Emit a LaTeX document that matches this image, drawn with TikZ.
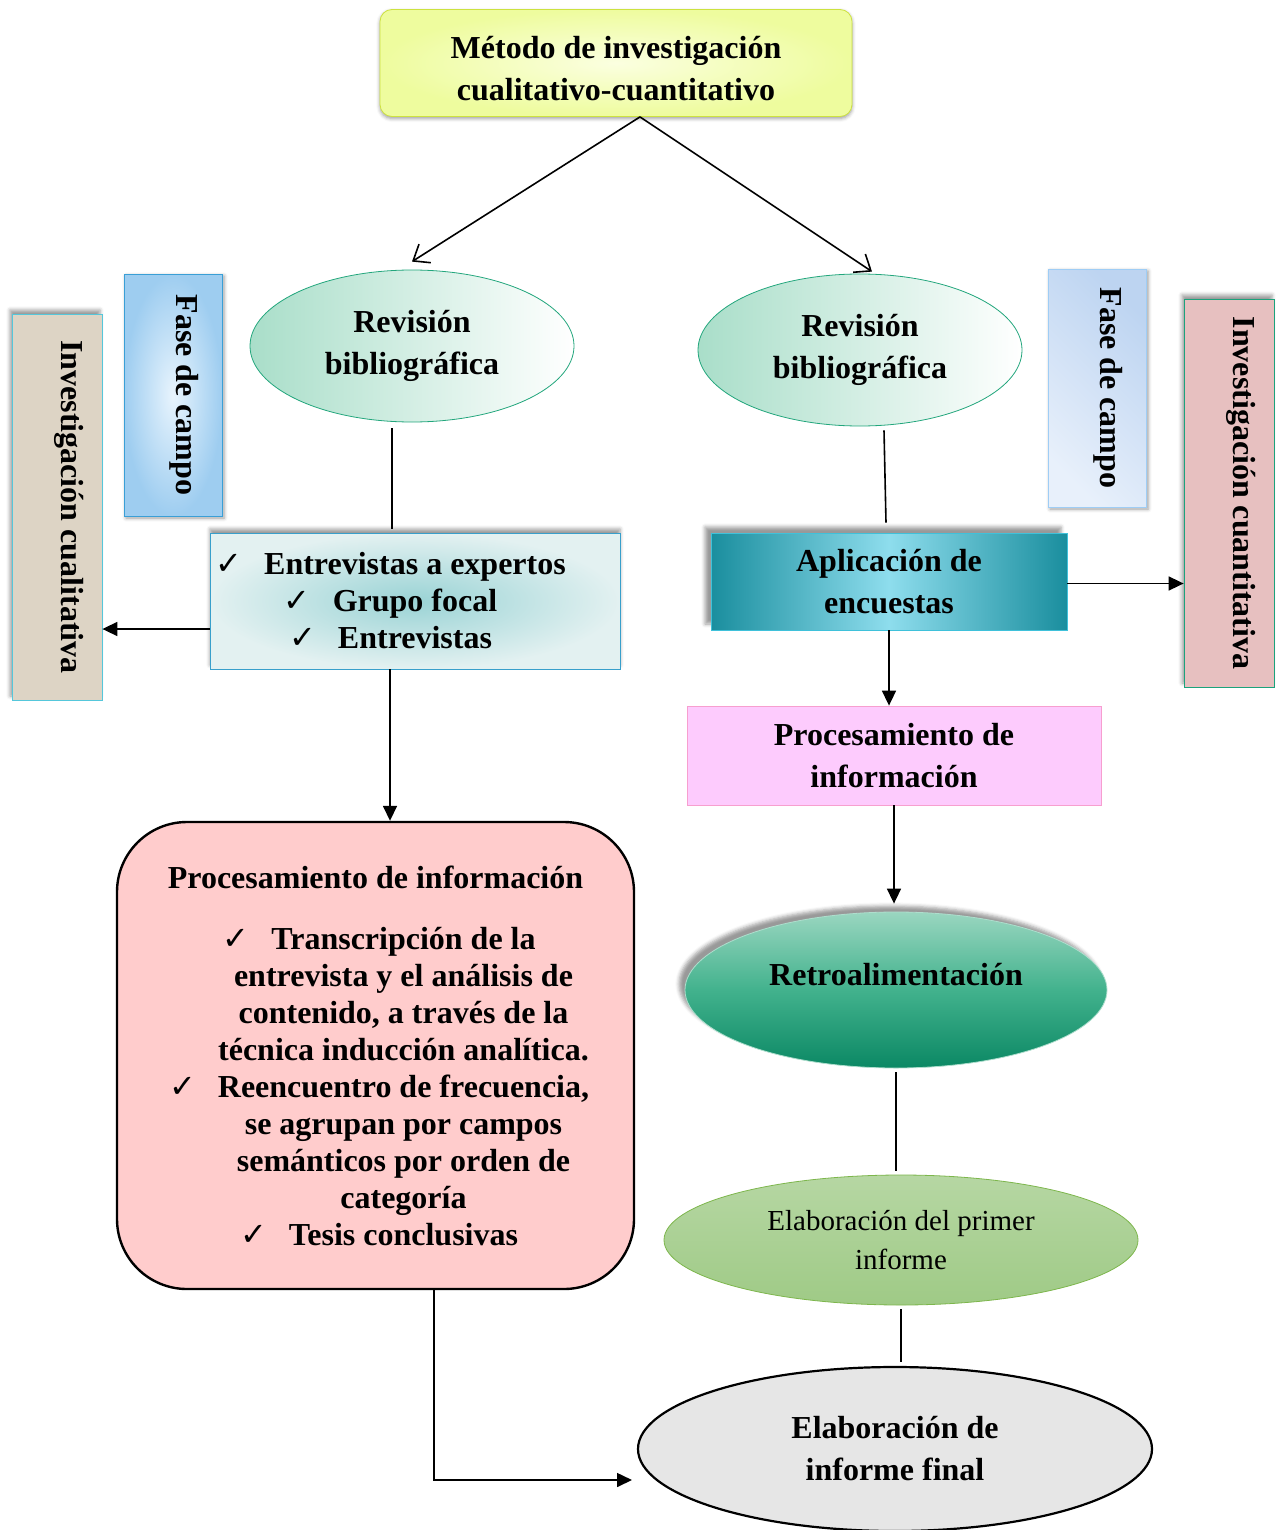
\documentclass[tikz,border=0pt]{standalone}
\usepackage{fontspec}
\setmainfont{Liberation Serif}
\newfontfamily\symfont{DejaVu Sans}
\usetikzlibrary{arrows.meta,shapes.geometric,shadows.blur}
\definecolor{topin}{HTML}{FBFFE0}
\definecolor{topout}{HTML}{EEFC9E}
\definecolor{topline}{HTML}{CDE23F}
\definecolor{revleft}{HTML}{A9DEC9}
\definecolor{revline}{HTML}{22A67C}
\definecolor{faseAin}{HTML}{E8F4FD}
\definecolor{faseAout}{HTML}{9ECDF0}
\definecolor{faseAline}{HTML}{3A9FD6}
\definecolor{faseBtop}{HTML}{BDD4F1}
\definecolor{faseBbot}{HTML}{E8F0FB}
\definecolor{faseBline}{HTML}{9FCDF5}
\definecolor{cualfill}{HTML}{DDD4C5}
\definecolor{cualline}{HTML}{55C7DB}
\definecolor{cuanfill}{HTML}{E7C0C0}
\definecolor{cuanline}{HTML}{1BA37C}
\definecolor{lstin}{HTML}{9AD3D5}
\definecolor{lstout}{HTML}{E3F1F1}
\definecolor{lstline}{HTML}{389FCB}
\definecolor{apldark}{HTML}{1A8E9E}
\definecolor{aplmid}{HTML}{8EDDED}
\definecolor{aplline}{HTML}{3FC1DA}
\definecolor{procfill}{HTML}{FDCBFD}
\definecolor{procline}{HTML}{F79FCF}
\definecolor{retrotop}{HTML}{9AD6C0}
\definecolor{retromid}{HTML}{42B28D}
\definecolor{retrobot}{HTML}{0B8864}
\definecolor{primtop}{HTML}{B6D7A3}
\definecolor{primbot}{HTML}{9FCA86}
\definecolor{primline}{HTML}{7DB64C}
\definecolor{finalfill}{HTML}{E6E6E6}
\definecolor{bigfill}{HTML}{FFCCCC}
\newcommand{\chk}{\llap{{\symfont\mdseries\fontsize{16}{16}\selectfont ✓}\hspace{11pt}}}
\tikzset{
	txt/.style={align=center, inner sep=2pt, font=\fontsize{16}{21}\selectfont\bfseries},
	topbox/.style={txt, draw=topline, rounded corners=6pt, inner color=topin, outer color=topout,
			minimum width=236pt, minimum height=53.5pt, blur shadow={shadow xshift=0pt, shadow yshift=-1pt}},
	revell/.style={txt, ellipse, draw=revline, left color=revleft, right color=white,
			minimum width=162pt, minimum height=76pt},
	fasebox/.style={txt, rotate=-90, text depth=15pt, minimum height=49pt, blur shadow={shadow xshift=1pt, shadow yshift=-1pt}},
	invbox/.style={txt, rotate=-90, text depth=16pt, minimum height=45pt, blur shadow={shadow xshift=-1pt, shadow yshift=2pt}},
	listbox/.style={txt, draw=lstline, inner color=lstin, outer color=lstout, font=\fontsize{16}{18.5}\selectfont\bfseries,
			minimum width=205pt, minimum height=68pt, blur shadow={shadow xshift=0pt, shadow yshift=2pt}},
	aplbox/.style={txt, draw=aplline, left color=apldark, right color=apldark, middle color=aplmid,
			minimum width=178pt, minimum height=48.5pt, blur shadow={shadow xshift=-3pt, shadow yshift=3pt}},
	procbox/.style={txt, draw=procline, fill=procfill, minimum width=207pt, minimum height=49.5pt},
	retroell/.style={txt, ellipse, draw=retrotop!80!white, top color=retrotop, bottom color=retrobot, middle color=retromid,
			text depth=16pt, minimum width=211pt, minimum height=78pt, blur shadow={shadow xshift=-3pt, shadow yshift=3pt}},
	primell/.style={ellipse, draw=primline, top color=primtop, bottom color=primbot, align=center,
			font=\fontsize{14.5}{19.5}\selectfont, minimum width=237pt, minimum height=65pt},
	finalell/.style={txt, ellipse, draw, line width=1.1pt, fill=finalfill, minimum width=257pt, minimum height=82pt},
	bigbox/.style={txt, draw, line width=1.2pt, fill=bigfill, rounded corners=35pt, font=\fontsize{16}{18.5}\selectfont\bfseries,
			minimum width=258.5pt, minimum height=233.5pt},
	conn/.style={line width=0.8pt},
	arr/.style={conn, -{Triangle[length=7.5pt,width=7pt]}},
	openarr/.style={line width=0.8pt, -{Straight Barb[length=7pt,width=11pt]}}
}

\begin{document}
\begin{tikzpicture}[x=0.5pt,y=-0.5pt]
	\useasboundingbox (0,0) rectangle (1280,1530);

	\node [topbox] (top) at (616,63) {\rule{0pt}{17pt}Método de investigación\\cualitativo-cuantitativo};
	\node [revell] (rev1) at (412,346) {Revisión\\bibliográfica};
	\node [revell] (rev2) at (860,350) {Revisión\\bibliográfica};

	\node [fasebox, draw=faseAline, inner color=faseAin, outer color=faseAout, minimum width=121pt] (fase1) at (173,395) {Fase de campo};
	\node [fasebox, draw=faseBline, top color=faseBtop, bottom color=faseBbot, shading angle=-45, minimum width=119pt] (fase2) at (1097,388) {Fase de campo};
	\node [invbox, draw=cualline, fill=cualfill, minimum width=193pt] (cual) at (57,507) {Investigación cualitativa};
	\node [invbox, draw=cuanline, fill=cuanfill, minimum width=194pt] (cuan) at (1229,493) {Investigación cuantitativa};

	\node [listbox] (lst) at (415,601) {\chk Entrevistas a expertos\\\chk Grupo focal\\\chk Entrevistas};
	\node [aplbox] (apl) at (889,581.5) {Aplicación de\\encuestas};
	\node [procbox] (proc2) at (894,755.5) {Procesamiento de\\información};
	\node [retroell] (retro) at (896,990) {Retroalimentación};
	\node [primell] (prim) at (901,1240) {Elaboración del primer\\informe};
	\node [finalell] (final) at (895,1449) {Elaboración de\\informe final};

	\node [bigbox] (proc1) at (375.5,1055.5) {Procesamiento de información\\[12pt]
		\hspace*{28pt}\chk Transcripción de la\\
		\hspace*{28pt}entrevista y el análisis de\\
		\hspace*{28pt}contenido, a través de la\\
		\hspace*{28pt}técnica inducción analítica.\\
		\hspace*{28pt}\chk Reencuentro de frecuencia,\\
		\hspace*{28pt}se agrupan por campos\\
		\hspace*{28pt}semánticos por orden de\\
		\hspace*{28pt}categoría\\
		\hspace*{28pt}\chk Tesis conclusivas};

	\draw [openarr] ([xshift=12pt]top.south) -- ([yshift=4pt]rev1.north);
	\draw [openarr] ([xshift=12pt]top.south) -- ([xshift=6pt,yshift=1pt]rev2.north);
	\draw [conn] ([xshift=-10pt,yshift=-3pt]rev1.south) -- ([xshift=-11.5pt,yshift=2pt]lst.north);
	\draw [conn] ([xshift=12pt,yshift=-2pt]rev2.south) -- ([xshift=-1.5pt,yshift=5pt]apl.north);
	\draw [arr] ([yshift=-14pt]lst.west) -- ([yshift=-14pt]lst.west -| cual.north);
	\draw [arr] ([yshift=-1pt]apl.east) -- ([yshift=-1pt]apl.east -| cuan.south);
	\draw [arr] ([xshift=-12.5pt]lst.south) -- ([xshift=-12.5pt]lst.south |- proc1.north);
	\draw [arr] (apl.south) -- (apl.south |- proc2.north);
	\draw [arr] (proc2.south) -- ([yshift=4pt]proc2.south |- retro.north);
	\draw [conn] ([yshift=-2pt]retro.south) -- ([yshift=2pt]retro.south |- prim.north);
	\draw [conn] ([yshift=-2pt]prim.south) -- ([yshift=2pt]prim.south |- final.north);
	\coordinate (fin) at (632,1480);
	\draw [arr] ([xshift=29.25pt]proc1.south) |- (fin);
\end{tikzpicture}
\end{document}
